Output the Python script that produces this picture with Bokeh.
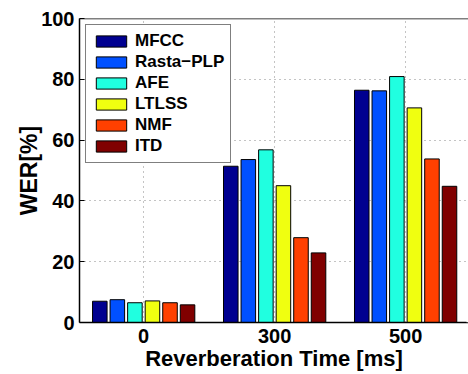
from bokeh.plotting import figure
from bokeh.models import ColumnDataSource, Range1d, FixedTicker, Legend, LegendItem, Span
from bokeh.transform import dodge
from bokeh.embed import file_html
from bokeh.resources import INLINE

categories = ["0", "300", "500"]
methods = ["MFCC", "Rasta\u2212PLP", "AFE", "LTLSS", "NMF", "ITD"]
mfcc = [7.0, 51.4, 76.4]
rasta = [7.5, 53.6, 76.2]
afe = [6.5, 56.8, 80.9]
ltlss = [7.1, 45.0, 70.6]
nmf = [6.5, 27.9, 53.8]
itd = [5.8, 22.9, 44.8]
colors = ["#000090", "#0050FF", "#20FFE0", "#F0FF10", "#FF4000", "#800000"]

series = [mfcc, rasta, afe, ltlss, nmf, itd]
xpos = [i + 1 for i in range(len(categories))]
data = {"x": xpos}
for k, s in enumerate(series):
    data["s%d" % k] = s
source = ColumnDataSource(data)

FONT = "Liberation Sans"
X_END = 3.48

p = figure(width=468, height=374, output_backend="svg", toolbar_location=None,
           x_range=Range1d(0.51, X_END), y_range=Range1d(0, 100),
           min_border_left=79, min_border_right=0, min_border_top=18, min_border_bottom=52)
p.outline_line_color = None

step = 0.134
width = 0.111
items = []
for k, s in enumerate(series):
    r = p.vbar(x=dodge("x", (k - 2.5) * step), top="s%d" % k, width=width, source=source,
               fill_color=colors[k], line_color="black", line_width=1)
    items.append(LegendItem(label=methods[k], renderers=[r]))

legend = Legend(items=items, location="top_left")
legend.margin = 6
legend.padding = 6
legend.spacing = 1
legend.glyph_width = 38
legend.glyph_height = 14
legend.label_height = 14
legend.label_standoff = 5
legend.label_text_font = FONT
legend.label_text_font_style = "bold"
legend.label_text_font_size = "17px"
legend.label_text_color = "black"
legend.border_line_color = "black"
legend.border_line_width = 1.5
legend.background_fill_alpha = 1
p.add_layout(legend)

p.add_layout(Span(location=X_END, dimension="height", line_color="white", line_width=4))
p.add_layout(Span(location=100, dimension="width", line_color="black", line_width=1.5))

p.xaxis.ticker = FixedTicker(ticks=xpos)
p.xaxis.major_label_overrides = {x: c for x, c in zip(xpos, categories)}
p.yaxis.ticker = FixedTicker(ticks=[0, 20, 40, 60, 80, 100])

for ax in (p.xaxis[0], p.yaxis[0]):
    ax.axis_line_color = "black"
    ax.axis_line_width = 1.5
    ax.major_tick_line_color = "black"
    ax.major_tick_line_width = 1
    ax.minor_tick_line_color = None
    ax.major_label_text_font = FONT
    ax.major_label_text_font_style = "bold"
    ax.major_label_text_font_size = "20px"
    ax.major_label_text_color = "black"
    ax.axis_label_text_font = FONT
    ax.axis_label_text_font_style = "bold"
    ax.axis_label_text_color = "black"

p.xaxis.axis_label_text_font_size = "22px"
p.yaxis.axis_label_text_font_size = "23px"
p.xaxis.major_tick_in = 0
p.xaxis.major_tick_out = 0
p.yaxis.major_tick_in = 5
p.yaxis.major_tick_out = 0
p.xaxis.major_label_standoff = 6
p.yaxis.major_label_standoff = 5
p.xaxis.axis_label = "Reverberation Time [ms]"
p.yaxis.axis_label = "WER[%]"
p.xaxis.axis_label_standoff = 0
p.yaxis.axis_label_standoff = -4

p.xgrid.grid_line_color = "#888888"
p.xgrid.grid_line_dash = "1 4"
p.ygrid.grid_line_color = "#888888"
p.ygrid.grid_line_dash = "1 4"
p.xgrid.ticker = FixedTicker(ticks=xpos)
p.ygrid.ticker = FixedTicker(ticks=[20, 40, 60, 80])

open("out.html", "w").write(file_html(p, INLINE))
